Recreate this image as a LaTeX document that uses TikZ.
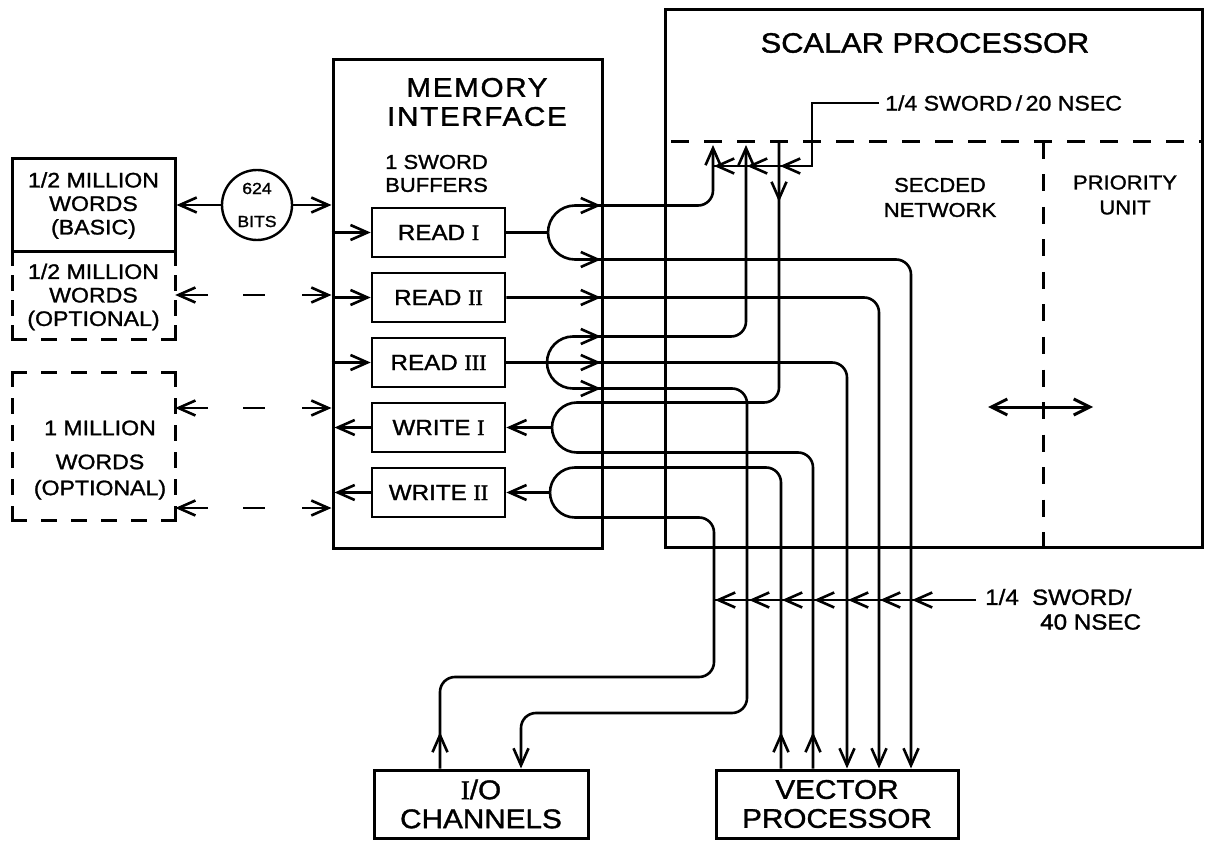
\documentclass[tikz,border=0pt]{standalone}
\usepackage{fontspec}
\setmainfont{Liberation Sans}[FakeStretch=1.1,FakeBold=1.3]
\newfontfamily\rnfont{Liberation Serif}[FakeBold=1.5]
\usetikzlibrary{arrows.meta,calc}
\newcommand\rn[1]{{\rnfont #1}}
\newcommand\fsz[2]{\fontsize{#1}{#2}\selectfont}
\newcommand\dseg[4]{%
  \pgfmathsetmacro\dsL{abs(#3-#1)+abs(#4-#2)}%
  \pgfmathtruncatemacro\dsN{max(2,round((\dsL+17)/30))}%
  \pgfmathsetmacro\dsG{(\dsL-\dsN*13)/(\dsN-1)}%
  \draw[dbox,dash pattern=on 13pt off \dsG pt] (#1,#2) -- (#3,#4);}
\begin{document}
\begin{tikzpicture}[x=1pt,y=-1pt,
  box/.style={draw,line width=3pt,inner sep=0pt},
  buf/.style={draw,line width=2.6pt,inner sep=0pt,minimum width=133pt,minimum height=49pt,font=\fsz{22}{24}},
  wire/.style={line width=2.6pt},
  arr/.style={-{Straight Barb[length=17pt,width=15pt]}},
  dbox/.style={line width=3pt,line cap=rect},
  sdash/.style={line width=3pt,dash pattern=on 18pt off 15pt},
  txt/.style={inner sep=0pt,align=center}]
\useasboundingbox (0,0) rectangle (1205,842);

% ---------- boxes ----------
\node[box,minimum width=163pt,minimum height=93pt,txt,font=\fsz{21}{23.5}] (m1) at (93.5,205.5) {1/2 MILLION\\WORDS\\(BASIC)};
\node[txt,minimum width=163pt,minimum height=88pt,font=\fsz{21}{23.5}] (m2) at (93.5,297) {1/2 MILLION\\WORDS\\(OPTIONAL)};
\node[minimum width=163pt,minimum height=148pt,inner sep=0pt] (m3) at (93.5,446) {};
\node[txt,font=\fsz{21}{24}] (m3t) at (100,460) {1 MILLION\\[10pt]WORDS\\[2pt](OPTIONAL)};
\node[draw,circle,line width=2.4pt,minimum size=70pt,inner sep=0pt,txt,font=\fsz{16}{19}] (bits) at (257,205) {624\\[14pt]BITS};

\node[box,minimum width=269pt,minimum height=488pt] (mi) at (467.5,304) {};
\node[txt,font=\fsz{27}{29}\addfontfeature{LetterSpace=6}] (mit) at (477,102) {MEMORY\\INTERFACE};
\node[txt,anchor=west,align=left,font=\fsz{20}{23}] (sbt) at (385,173.5) {1 SWORD\\BUFFERS};
\node[buf] (r1) at (438.5,232.5) {READ \rn{I}};
\node[buf] (r2) at (438.5,297.5) {READ \rn{II}};
\node[buf] (r3) at (438.5,362.5) {READ \rn{III}};
\node[buf] (w1) at (438.5,427.5) {WRITE \rn{I}};
\node[buf] (w2) at (438.5,492.5) {WRITE \rn{II}};

\node[box,minimum width=537pt,minimum height=537pt] (sp) at (933.5,278.5) {};
\node[txt,font=\fsz{28}{32}] (spt) at (925,43) {SCALAR PROCESSOR};
\node[txt,font=\fsz{20}{25}] (sec) at (940,197.5) {SECDED\\NETWORK};
\node[txt,font=\fsz{20}{25}] (pri) at (1125,195) {PRIORITY\\UNIT};

\node[box,minimum width=214pt,minimum height=68pt,txt,font=\fsz{27}{29}] (io) at (481,804) {\rn{I}/O\\CHANNELS};
\node[box,minimum width=242pt,minimum height=68pt,txt,font=\fsz{27}{29}] (vp) at (837,804) {VECTOR\\PROCESSOR};

% ---------- dashed outlines ----------
\dseg{12}{340}{12}{252}
\dseg{12}{340}{175}{340}
\dseg{175}{340}{175}{252}
\dseg{12}{372}{175}{372}
\dseg{175}{372}{175}{520}
\dseg{175}{520}{12}{520}
\dseg{12}{520}{12}{372}
\draw[sdash,dash phase=27pt] (665,142) -- (1202,142);
\draw[line width=3pt,dash pattern=on 17pt off 15.5pt] (1043,142) -- (1043,547);

% ---------- left connectors ----------
\draw[wire,arr] (bits.west) -- (m1.east |- bits.west);
\draw[wire,arr] (bits.east) -- (mi.west |- bits.east);
\foreach \y/\n in {295/m2,408/m3,508/m3}{
  \draw[wire,arr] (208,\y) -- (\n.east |- 0,\y);
  \draw[wire] (243,\y) -- (265,\y);
  \draw[wire,arr] (302,\y) -- (mi.west |- 0,\y);
}
\foreach \b in {r1,r2,r3} \draw[wire,arr] (mi.west |- \b.west) -- (\b.west);
\foreach \b in {w1,w2} \draw[wire,arr] (\b.west) -- ($(mi.west |- \b.west)+(3,0)$);

% ---------- right connectors ----------
\coordinate (s1) at (548,232.5);
\coordinate (s3) at (547,362.5);
\coordinate (s4) at (552,427.5);
\coordinate (s5) at (550,492.5);
\coordinate (u1) at (713,145);
\coordinate (u3) at (746,145);
\coordinate (u4) at (779,142);
\coordinate (k1) at (714,677);
\coordinate (k3) at (747,713);

% READ I
\draw[wire] (r1.east) -- (s1);
\draw[wire,rounded corners=27pt] (s1) |- (640,205.5);
\draw[wire,rounded corners=27pt] (s1) |- (640,259.5);
\draw[wire,arr,rounded corners=15pt] (640,205.5) -| (u1);
\draw[wire,arr,rounded corners=15pt] (640,259.5) -| (vp.north -| 911,0);
% READ II
\draw[wire,arr,rounded corners=15pt] (r2.east) -| (vp.north -| 879,0);
% READ III
\draw[wire] (r3.east) -- (s3);
\draw[wire,rounded corners=26pt] (s3) |- (640,336.5);
\draw[wire,rounded corners=26pt] (s3) |- (640,388.5);
\draw[wire,arr,rounded corners=15pt] (640,336.5) -| (u3);
\draw[wire,arr,rounded corners=15pt] (s3) -| (vp.north -| 847,0);
\draw[wire,arr,rounded corners=15pt] (640,388.5) -| (k3) -| (io.north -| 521,0);
% WRITE I
\draw[wire,arr] (s4) -- (w1.east);
\draw[wire,rounded corners=25pt] (s4) |- (640,402.5);
\draw[wire,rounded corners=25pt] (s4) |- (640,452.5);
\draw[wire,rounded corners=15pt] (640,402.5) -| (u4);
\draw[wire,rounded corners=15pt] (640,452.5) -| (vp.north -| 813,0);
% WRITE II
\draw[wire,arr] (s5) -- (w2.east);
\draw[wire,rounded corners=25pt] (s5) |- (640,467.5);
\draw[wire,rounded corners=25pt] (s5) |- (640,517.5);
\draw[wire,rounded corners=15pt] (640,467.5) -| (vp.north -| 781,0);
\draw[wire,rounded corners=15pt] (640,517.5) -| (k1) -| (io.north -| 440,0);

% arrowheads on the way
\foreach \y in {205.5,259.5,297.5,336.5,362.5,388.5} \draw[wire,arr] (582,\y) -- (601,\y);
\foreach \x in {440,781,813} \draw[wire,arr] (\x,755) -- (\x,732);
\draw[wire,arr] (779,180) -- (779,202);

% ---------- bus 1/4 SWORD / 20 NSEC ----------
\node[txt,anchor=west,font=\fsz{21}{24}] (lb1) at (885,103) {1/4 SWORD\,/\,20 NSEC};
\draw[wire] ([xshift=-6pt]lb1.west) -| (812,166) -- (713,166);
\foreach \x in {713,746,779} \draw[wire,arr] (\x+20,166) -- (\x+1,166);

% ---------- bus 1/4 SWORD/40 NSEC ----------
\node[txt,anchor=west,font=\fsz{22}{24}] (lb2) at (985,597) {1/4\hspace{0.6em}SWORD/};
\node[txt,anchor=west,font=\fsz{22}{24}] (lb3) at (1040,622) {40 NSEC};
\coordinate (b2) at (976,600);
\draw[wire] (b2) -- (714,600);
\foreach \x in {714,748,781,813,847,879,911} \draw[wire,arr] (\x+21,600) -- (\x+1,600);

% ---------- priority ----------
\coordinate (pa) at (988,407);
\coordinate (pb) at (1093,407);
\draw[line width=3pt,{Straight Barb[length=16pt,width=16pt]}-{Straight Barb[length=16pt,width=16pt]}] (pa) -- (pb);
\end{tikzpicture}
\end{document}
